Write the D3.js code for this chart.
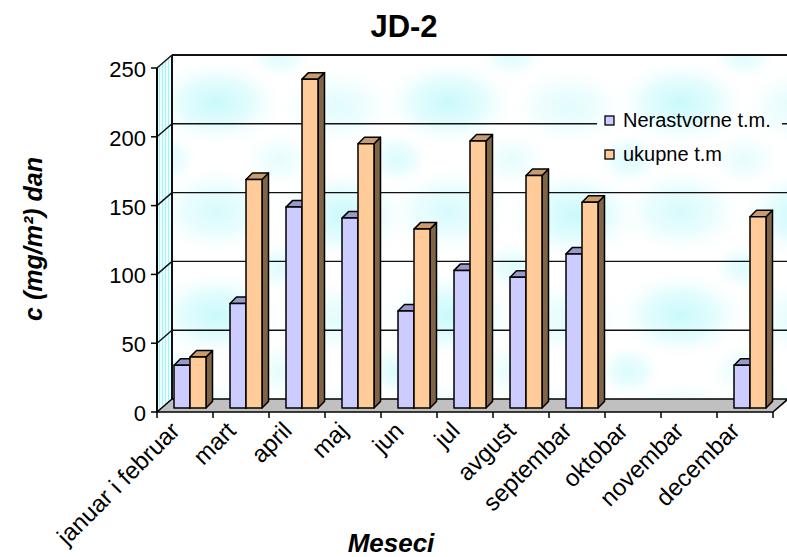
<!DOCTYPE html>
<html>
<head>
<meta charset="utf-8">
<script src="https://cdn.jsdelivr.net/npm/d3@7"></script>
<style>
  body { margin: 0; background: #fff; }
  svg { display: block; font-family: Arial, "Liberation Sans", sans-serif; }
</style>
</head>
<body>
<svg id="chart" width="787" height="557"></svg>
<script>
// ---- data ----
const months = ["januar i februar", "mart", "april", "maj", "jun", "jul",
                "avgust", "septembar", "oktobar", "novembar", "decembar"];
const seriesNames = ["Nerastvorne t.m.", "ukupne t.m"];
const nerastvorne = [31, 76, 146, 138, 70.5, 100, 95, 112, null, null, 31];
const ukupne      = [37, 166, 239, 192, 130, 194, 169, 149.5, null, null, 139];
const yTicks = [0, 50, 100, 150, 200, 250];

// ---- layout ----
const svg = d3.select("#chart");
const x0 = 157, x1 = 773, yBase = 412, yTop = 68;
const wallD = { dx: 15, dy: -13 };     // floor / wall depth
const barOff = { dx: 5, dy: -4 };      // bars sit a little behind the axis plane
const barD = { dx: 6.5, dy: -6.5 };    // bar thickness

const x = d3.scaleBand().domain(months).range([x0, x1]);
const y = d3.scaleLinear().domain([0, 250]).range([yBase, yTop]);
const xs = d3.scaleBand().domain(seriesNames).range([-16, 16]);

const palette = {
  front: ["#ccccff", "#ffcc99"],
  top:   ["#9999cc", "#c99c70"],
  side:  ["#666699", "#7f6447"]
};

// ---- textures for the walls ----
const defs = svg.append("defs");
const blob = defs.append("radialGradient").attr("id", "blob");
blob.append("stop").attr("offset", "0%").attr("stop-color", "#c0f8fb").attr("stop-opacity", 0.85);
blob.append("stop").attr("offset", "50%").attr("stop-color", "#cdfafc").attr("stop-opacity", 0.55);
blob.append("stop").attr("offset", "100%").attr("stop-color", "#ffffff").attr("stop-opacity", 0);

// a 2x2 tile of soft cyan clouds, each cloud a little different
const TW = 232, TH = 212;
const clouds = [
  [45, 48, 70, 46, 1.0], [165, 52, 62, 42, 0.55],
  [45, 156, 66, 46, 0.75], [170, 160, 70, 48, 1.0],
  [108, 104, 38, 30, 0.45], [225, 104, 34, 28, 0.4], [-7, 104, 34, 28, 0.4],
  [108, 0, 34, 26, 0.35], [108, 212, 34, 26, 0.35]
];
const tile = defs.append("pattern").attr("id", "wallTex")
  .attr("patternUnits", "userSpaceOnUse")
  .attr("x", x0 + wallD.dx).attr("y", yTop + wallD.dy)
  .attr("width", TW).attr("height", TH);
tile.append("rect").attr("width", TW).attr("height", TH).attr("fill", "#ffffff");
clouds.forEach(([cx, cy, rx, ry, op]) => {
  [[0, 0], [TW, 0], [-TW, 0], [0, TH], [0, -TH]].forEach(([ox, oy]) => {
    tile.append("ellipse")
      .attr("cx", cx + ox).attr("cy", cy + oy).attr("rx", rx).attr("ry", ry)
      .attr("fill", "url(#blob)").attr("opacity", op);
  });
});

const stripes = defs.append("pattern").attr("id", "sideTex")
  .attr("patternUnits", "userSpaceOnUse").attr("width", 3).attr("height", 10);
stripes.append("rect").attr("width", 3).attr("height", 10).attr("fill", "#eaffff");
stripes.append("rect").attr("width", 1).attr("height", 10).attr("fill", "#a9f1f3");

// ---- walls ----
const backL = x0 + wallD.dx, backR = x1 + wallD.dx;
const backTop = y(250) + wallD.dy, backBot = y(0) + wallD.dy;

svg.append("rect")
  .attr("x", backL).attr("y", backTop)
  .attr("width", backR - backL + 2).attr("height", backBot - backTop)
  .attr("fill", "url(#wallTex)");

svg.append("polygon")
  .attr("points", [[x0, y(250)], [backL, backTop], [backL, backBot], [x0, y(0)]].join(" "))
  .attr("fill", "url(#sideTex)");

// gridlines on the back wall and the side wall
const grid = svg.append("g").attr("stroke", "#111").attr("stroke-width", 1.4).attr("fill", "none");
yTicks.filter(t => t > 0).forEach(t => {
  grid.append("line")
    .attr("x1", backL).attr("x2", backR + 2)
    .attr("y1", y(t) + wallD.dy).attr("y2", y(t) + wallD.dy)
    .attr("stroke-width", t === 250 ? 2 : 1.4);
  grid.append("line")
    .attr("x1", x0).attr("y1", y(t))
    .attr("x2", backL).attr("y2", y(t) + wallD.dy);
});
grid.append("line")
  .attr("x1", backL).attr("x2", backL)
  .attr("y1", backTop).attr("y2", backBot)
  .attr("stroke-width", 2);

// ---- floor ----
svg.append("polygon")
  .attr("points", [[x0, y(0)], [x1, y(0)], [backR, backBot], [backL, backBot]].join(" "))
  .attr("fill", "#c0c0c0").attr("stroke", "#000").attr("stroke-width", 1.6)
  .attr("stroke-linejoin", "round");

// ---- bars ----
const series = [nerastvorne, ukupne];
const bars = svg.append("g").attr("stroke", "#000").attr("stroke-width", 1.5)
  .attr("stroke-linejoin", "round");

months.forEach((m, i) => {
  series.forEach((vals, s) => {
    const v = vals[i];
    if (v == null) return;
    const cx = x(m) + x.bandwidth() / 2 + barOff.dx;
    const xl = cx + xs(seriesNames[s]);
    const xr = xl + xs.bandwidth();
    const yb = y(0) + barOff.dy;
    const yt = y(v) + barOff.dy;
    const g = bars.append("g");
    g.append("polygon")
      .attr("points", [[xr, yt], [xr + barD.dx, yt + barD.dy], [xr + barD.dx, yb + barD.dy], [xr, yb]].join(" "))
      .attr("fill", palette.side[s]);
    g.append("polygon")
      .attr("points", [[xl, yt], [xr, yt], [xr + barD.dx, yt + barD.dy], [xl + barD.dx, yt + barD.dy]].join(" "))
      .attr("fill", palette.top[s]);
    g.append("rect")
      .attr("x", xl).attr("y", yt)
      .attr("width", xr - xl).attr("height", yb - yt)
      .attr("fill", palette.front[s]);
  });
});

// ---- y axis ----
const yAxis = svg.append("g");
yAxis.append("line")
  .attr("x1", x0).attr("x2", x0).attr("y1", y(250)).attr("y2", y(0))
  .attr("stroke", "#000").attr("stroke-width", 2);
yAxis.selectAll("line.tick").data(yTicks).join("line").attr("class", "tick")
  .attr("x1", x0 - 6).attr("x2", x0).attr("y1", d => y(d)).attr("y2", d => y(d))
  .attr("stroke", "#000").attr("stroke-width", 1.5);
yAxis.selectAll("text").data(yTicks).join("text")
  .attr("x", x0 - 11).attr("y", d => y(d) + 9)
  .attr("text-anchor", "end").attr("font-size", 22).attr("fill", "#000")
  .text(d => d);

// ---- x axis ----
const xAxis = svg.append("g");
const boundaries = months.map(m => x(m)).concat([x1]);
xAxis.selectAll("line").data(boundaries).join("line")
  .attr("x1", d => d).attr("x2", d => d).attr("y1", y(0)).attr("y2", y(0) + 6)
  .attr("stroke", "#000").attr("stroke-width", 1.5);
xAxis.selectAll("text").data(months).join("text")
  .attr("transform", d => `translate(${x(d) + x.bandwidth() / 2 - 16},${y(0) + 8}) rotate(-45)`)
  .attr("dy", "0.72em")
  .attr("text-anchor", "end").attr("font-size", 24).attr("fill", "#000")
  .text(d => d);

// ---- legend ----
const legend = svg.append("g");
legend.append("rect")
  .attr("x", 597).attr("y", 112).attr("width", 185).attr("height", 56)
  .attr("fill", "url(#wallTex)");
seriesNames.forEach((name, s) => {
  const ly = 116 + s * 34;
  legend.append("rect")
    .attr("x", 605).attr("y", ly).attr("width", 9).attr("height", 9)
    .attr("fill", palette.front[s]).attr("stroke", "#000").attr("stroke-width", 1.3);
  legend.append("text")
    .attr("x", 623).attr("y", ly + 11)
    .attr("font-size", 20).attr("fill", "#000")
    .text(name);
});

// ---- titles ----
svg.append("text")
  .attr("x", 404).attr("y", 37).attr("text-anchor", "middle")
  .attr("font-size", 31).attr("font-weight", "bold")
  .text("JD-2");

svg.append("text")
  .attr("x", 391).attr("y", 552).attr("text-anchor", "middle")
  .attr("font-size", 26).attr("font-weight", "bold").attr("font-style", "italic")
  .text("Meseci");

svg.append("text")
  .attr("transform", "translate(42,239) rotate(-90)")
  .attr("text-anchor", "middle")
  .attr("font-size", 25).attr("font-weight", "bold").attr("font-style", "italic")
  .text("c (mg/m²) dan");
</script>
</body>
</html>
